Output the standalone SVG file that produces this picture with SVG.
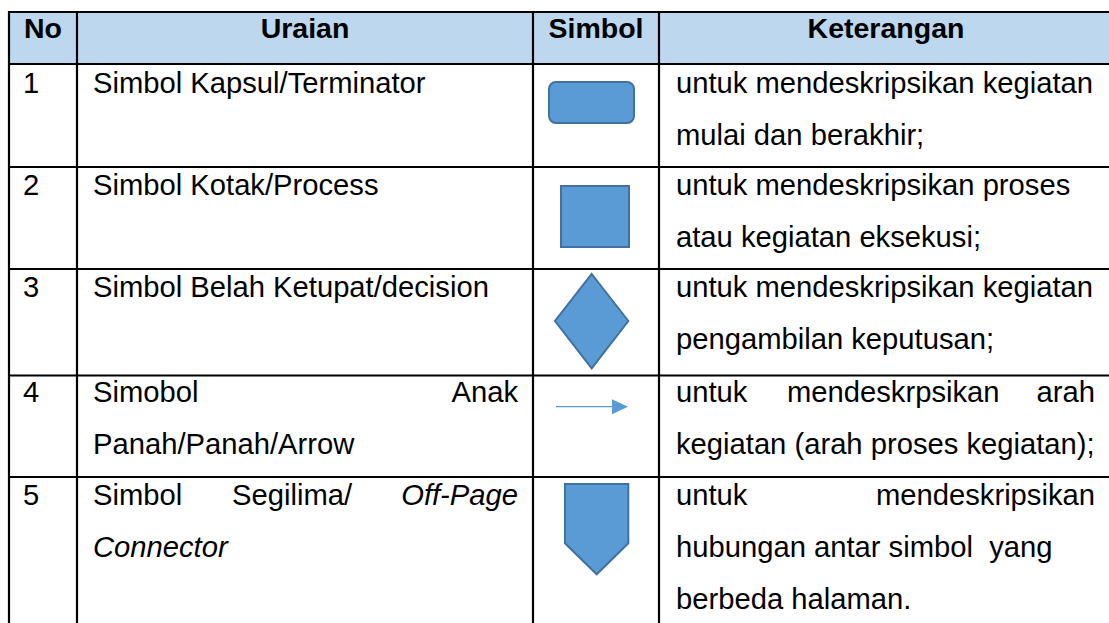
<svg xmlns="http://www.w3.org/2000/svg" width="1109" height="623" viewBox="0 0 1109 623">
<style>
  .t { font-family: "Liberation Sans", Arial, sans-serif; font-size: 29.2px; fill: #000; }
  .b { font-weight: bold; font-size: 28.5px; }
  .i { font-style: italic; }
  .grid { stroke: #000; stroke-width: 2.2; fill: none; }
  .shape { fill: #5B9BD5; stroke: #41719C; stroke-width: 2; }
</style>
<rect width="1109" height="623" fill="#fff"/>
<g id="header">
  <rect x="9" y="12" width="1101" height="52" fill="#BDD7EE"/>
  <text class="t b" x="43" y="38" text-anchor="middle">No</text>
  <text class="t b" x="305" y="38" text-anchor="middle">Uraian</text>
  <text class="t b" x="596" y="38" text-anchor="middle">Simbol</text>
  <text class="t b" x="886" y="38" text-anchor="middle">Keterangan</text>
</g>
<g id="grid" class="grid">
  <line x1="9" y1="12" x2="1110" y2="12"/>
  <line x1="9" y1="64" x2="1110" y2="64"/>
  <line x1="9" y1="167" x2="1110" y2="167"/>
  <line x1="9" y1="269" x2="1110" y2="269"/>
  <line x1="9" y1="375.5" x2="1110" y2="375.5"/>
  <line x1="9" y1="477" x2="1110" y2="477"/>
  <line x1="9" y1="11" x2="9" y2="624"/>
  <line x1="77" y1="11" x2="77" y2="624"/>
  <line x1="533" y1="11" x2="533" y2="624"/>
  <line x1="659" y1="11" x2="659" y2="624"/>
</g>
<g id="row1">
  <text class="t" x="23" y="92.5">1</text>
  <text class="t" x="93" y="92.5">Simbol Kapsul/Terminator</text>
  <rect class="shape" x="549" y="82" width="85" height="41" rx="7"/>
  <text class="t" x="676" y="92.5">untuk mendeskripsikan kegiatan</text>
  <text class="t" x="676" y="144.5">mulai dan berakhir;</text>
</g>
<g id="row2">
  <text class="t" x="23" y="195">2</text>
  <text class="t" x="93" y="195">Simbol Kotak/Process</text>
  <rect class="shape" x="561" y="186" width="68" height="61"/>
  <text class="t" x="676" y="195">untuk mendeskripsikan proses</text>
  <text class="t" x="676" y="247">atau kegiatan eksekusi;</text>
</g>
<g id="row3">
  <text class="t" x="23" y="297">3</text>
  <text class="t" x="93" y="297">Simbol Belah Ketupat/decision</text>
  <polygon class="shape" points="591.7,274 628.3,321 591.7,368.3 555,321"/>
  <text class="t" x="676" y="297">untuk mendeskripsikan kegiatan</text>
  <text class="t" x="676" y="349">pengambilan keputusan;</text>
</g>
<g id="row4">
  <text class="t" x="23" y="402">4</text>
  <text class="t" x="93" y="402">Simobol</text>
  <text class="t" x="518" y="402" text-anchor="end">Anak</text>
  <text class="t" x="93" y="454">Panah/Panah/Arrow</text>
  <line x1="556" y1="406.7" x2="613" y2="406.7" stroke="#5B9BD5" stroke-width="1.2"/>
  <polygon points="612,399.3 628,406.7 612,414.3" fill="#5B9BD5"/>
  <text class="t" x="676" y="402">untuk</text>
  <text class="t" x="787" y="402">mendeskrpsikan</text>
  <text class="t" x="1095" y="402" text-anchor="end">arah</text>
  <text class="t" x="676" y="454">kegiatan (arah proses kegiatan);</text>
</g>
<g id="row5">
  <text class="t" x="23" y="505">5</text>
  <text class="t" x="93" y="505">Simbol</text>
  <text class="t" x="232" y="505">Segilima/</text>
  <text class="t i" x="518" y="505" text-anchor="end">Off-Page</text>
  <text class="t i" x="93" y="557">Connector</text>
  <polygon class="shape" points="565,484 628.3,484 628.3,543.3 596.7,574.3 565,543.3"/>
  <text class="t" x="676" y="505">untuk</text>
  <text class="t" x="1095" y="505" text-anchor="end">mendeskripsikan</text>
  <text class="t" x="676" y="557" xml:space="preserve">hubungan antar simbol  yang</text>
  <text class="t" x="676" y="609">berbeda halaman.</text>
</g>
</svg>
